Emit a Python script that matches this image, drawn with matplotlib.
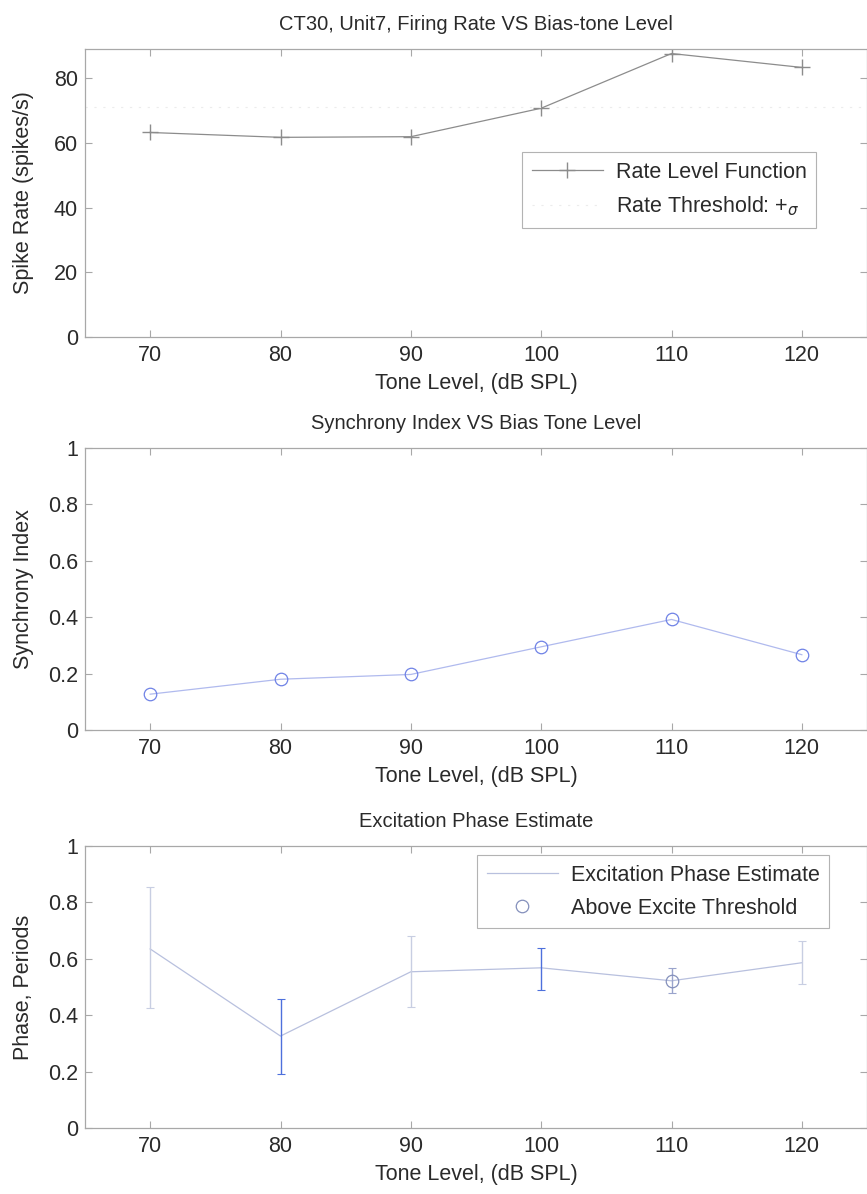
import matplotlib.pyplot as plt
import numpy as np

plt.rcParams['font.family'] = ['Liberation Sans', 'DejaVu Sans']

levels = [70, 80, 90, 100, 110, 120]

# firing rate (spikes/s)
rate = [63.2, 61.7, 61.9, 70.7, 87.6, 83.3]
rate_threshold = 71.0

# synchrony index
sync = [0.127, 0.180, 0.197, 0.295, 0.392, 0.267]

# excitation phase (periods) with error bar limits
phase = [0.635, 0.326, 0.554, 0.568, 0.522, 0.586]
phase_hi = [0.853, 0.456, 0.680, 0.639, 0.568, 0.663]
phase_lo = [0.425, 0.193, 0.428, 0.491, 0.477, 0.509]
above_thresh = [110]

W, H = 867, 1194
fig = plt.figure(figsize=(W / 100, H / 100), dpi=100)
L, R = 85, 867

def ax_at(top, bottom):
    return fig.add_axes([L / W, 1 - bottom / H, (R - L) / W, (bottom - top) / H])

fs = 15.5
tfs = 14.5
spine_col = '#a8a8a8'
txt_col = '#2a2a2a'

def style(ax, ylim, yticks, ylabel, title):
    ax.set_xlim(65, 125)
    ax.set_ylim(*ylim)
    ax.set_xticks(levels)
    ax.set_yticks(yticks)
    ax.set_yticklabels([f'{v:g}' for v in yticks])
    ax.tick_params(direction='in', top=True, right=True, length=5, width=0.8,
                   color=spine_col, labelsize=fs, labelcolor=txt_col)
    ax.tick_params(axis='x', pad=6)
    ax.tick_params(axis='y', pad=5)
    for s in ax.spines.values():
        s.set_color(spine_col)
        s.set_linewidth(0.9)
    ax.set_xlabel('Tone Level, (dB SPL)', fontsize=fs, color=txt_col, labelpad=5)
    ax.set_ylabel(ylabel, fontsize=fs, color=txt_col)
    ax.yaxis.set_label_coords((34 - L) / (R - L), 0.5)
    ax.set_title(title, fontsize=tfs, color=txt_col, pad=14)

def style_legend(leg):
    leg.get_frame().set_linewidth(0.8)
    for t in leg.get_texts():
        t.set_color(txt_col)

# top: rate level function
ax1 = ax_at(49, 337)
ax1.plot(levels, rate, color='#8c8c8c', lw=0.9, marker='+', ms=12, mew=1.0,
         label='Rate Level Function')
ax1.plot([65, 125], [rate_threshold, rate_threshold], color='#ececec', lw=0.8,
         ls=(0, (2, 6)), label='Rate Threshold: +$_\\sigma$')
style(ax1, (0, 89), [0, 20, 40, 60, 80], 'Spike Rate (spikes/s)',
      'CT30, Unit7, Firing Rate VS Bias-tone Level')
leg1 = ax1.legend(loc='upper left', bbox_to_anchor=((522 - L) / (R - L), 1 - (152 - 49) / 288),
                  fontsize=fs, frameon=True, fancybox=False, edgecolor='#a0a0a0',
                  borderpad=0.45, handlelength=3.3, handletextpad=0.6,
                  labelspacing=0.55, borderaxespad=0)
style_legend(leg1)

# middle: synchrony index
ax2 = ax_at(448, 730)
ax2.plot(levels, sync, color='#b0baee', lw=0.9, marker='o', ms=9, mfc='none',
         mec='#6f82e6', mew=0.9)
style(ax2, (0, 1), [0, 0.2, 0.4, 0.6, 0.8, 1], 'Synchrony Index',
      'Synchrony Index VS Bias Tone Level')

# bottom: excitation phase estimate
ax3 = ax_at(846, 1128)
ax3.plot(levels, phase, color='#b8c0de', lw=0.9, label='Excitation Phase Estimate')
bar_cols = ['#c8cee2', '#4d70dc', '#c8cee2', '#4d70dc', '#9aa4cc', '#c8cee2']
for x, y, lo, hi, c in zip(levels, phase, phase_lo, phase_hi, bar_cols):
    ax3.errorbar([x], [y], yerr=[[y - lo], [hi - y]], fmt='none', ecolor=c,
                 elinewidth=1.0, capsize=3, capthick=0.8)
ax3.plot([x for x in levels if x in above_thresh],
         [p for x, p in zip(levels, phase) if x in above_thresh],
         ls='none', marker='o', ms=9, mfc='none', mec='#8490bc', mew=0.9,
         label='Above Excite Threshold')
style(ax3, (0, 1), [0, 0.2, 0.4, 0.6, 0.8, 1], 'Phase, Periods',
      'Excitation Phase Estimate')
leg3 = ax3.legend(loc='upper left', bbox_to_anchor=((477 - L) / (R - L), 1 - (855 - 846) / 282),
                  fontsize=fs, frameon=True, fancybox=False, edgecolor='#a0a0a0',
                  borderpad=0.45, handlelength=3.3, handletextpad=0.6,
                  labelspacing=0.55, borderaxespad=0)
style_legend(leg3)

fig.savefig('out.png', dpi=100, facecolor='white')
